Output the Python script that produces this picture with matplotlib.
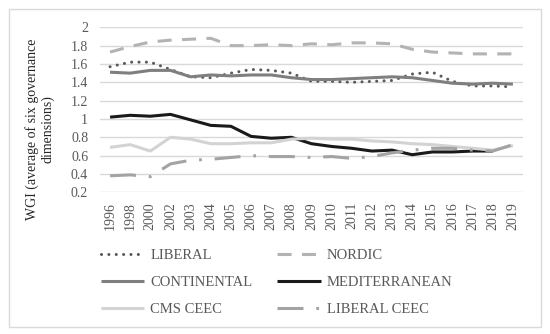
import numpy as np
import matplotlib
matplotlib.use("Agg")
import matplotlib.pyplot as plt
from matplotlib.patches import Rectangle

plt.rcParams['font.family'] = ['Liberation Serif', 'DejaVu Serif']

years = ['1996', '1998', '2000', '2002', '2003', '2004', '2005', '2006', '2007',
         '2008', '2009', '2010', '2011', '2012', '2013', '2014', '2015', '2016',
         '2017', '2018', '2019']

liberal = [1.57, 1.62, 1.62, 1.54, 1.46, 1.45, 1.50, 1.54, 1.53, 1.50, 1.41,
           1.41, 1.40, 1.41, 1.42, 1.49, 1.51, 1.41, 1.36, 1.36, 1.35]
nordic = [1.73, 1.79, 1.84, 1.86, 1.87, 1.88, 1.80, 1.80, 1.81, 1.80, 1.82,
          1.81, 1.83, 1.83, 1.82, 1.76, 1.73, 1.72, 1.71, 1.71, 1.71]
continental = [1.51, 1.50, 1.53, 1.53, 1.46, 1.48, 1.47, 1.48, 1.48, 1.45, 1.43,
               1.43, 1.44, 1.45, 1.46, 1.45, 1.42, 1.39, 1.38, 1.39, 1.38]
mediterranean = [1.02, 1.04, 1.03, 1.05, 0.99, 0.93, 0.92, 0.81, 0.79, 0.80, 0.73,
                 0.70, 0.68, 0.65, 0.66, 0.61, 0.64, 0.64, 0.65, 0.65, np.nan]
cms_ceec = [0.69, 0.72, 0.65, 0.80, 0.78, 0.73, 0.73, 0.74, 0.74, 0.78, 0.79,
            0.78, 0.78, 0.76, 0.75, 0.73, 0.72, 0.70, 0.68, 0.66, 0.71]
liberal_ceec = [0.38, 0.39, 0.37, 0.51, 0.55, 0.56, 0.58, 0.60, 0.59, 0.59, 0.58,
                0.59, 0.57, 0.59, 0.63, 0.66, 0.68, 0.68, 0.66, 0.65, 0.72]

yticks = [0.2, 0.4, 0.6, 0.8, 1.0, 1.2, 1.4, 1.6, 1.8, 2.0]
ytick_labels = ['0.2', '0.4', '0.6', '0.8', '1', '1.2', '1.4', '1.6', '1.8', '2']

W, H = 550, 334
fig = plt.figure(figsize=(W / 100, H / 100), dpi=100)
fig.patch.set_facecolor('white')
ax = fig.add_axes([100 / W, 1 - 192.3 / H, 423 / W, (192.3 - 27.3) / H])

x = np.arange(len(years))
lw = 2.2
l1, = ax.plot(x, liberal, color='#595959', lw=lw, linestyle=(0, (0.01, 2.4)),
              dash_capstyle='round', label='LIBERAL')
l2, = ax.plot(x, nordic, color='#b3b3b3', lw=lw, linestyle=(0, (4.6, 3.4)),
              label='NORDIC')
l3, = ax.plot(x, continental, color='#7f7f7f', lw=lw, solid_capstyle='butt',
              label='CONTINENTAL')
l4, = ax.plot(x, mediterranean, color='#1a1a1a', lw=lw, solid_capstyle='butt',
              label='MEDITERRANEAN')
l5, = ax.plot(x, cms_ceec, color='#d3d3d3', lw=lw, solid_capstyle='butt',
              label='CMS CEEC')
l6, = ax.plot(x, liberal_ceec, color='#a3a3a3', lw=lw,
              linestyle=(0, (8.5, 4.2, 0.9, 4.2)), label='LIBERAL CEEC')

ax.set_xlim(-0.5, len(years) - 0.5)
ax.set_ylim(0.2, 2.0)
ax.set_yticks(yticks)
ax.set_yticklabels(ytick_labels)
ax.set_xticks(x)
ax.set_xticklabels(years, rotation=90)
ax.tick_params(axis='both', length=0, labelsize=10, labelcolor='#595959')
ax.tick_params(axis='y', pad=8.5)
ax.tick_params(axis='x', pad=7)
ax.grid(axis='y', color='#d9d9d9', lw=1)
ax.set_axisbelow(True)
for s in ax.spines.values():
    s.set_visible(False)

fig.text(40 / W, 1 - 129 / H, 'WGI (average of six governance\ndimensions)',
         rotation=90, ha='center', va='center', multialignment='center',
         fontsize=10, color='#262626')

handles = [l1, l3, l5, l2, l4, l6]
leg = fig.legend(handles, [h.get_label() for h in handles], ncol=2,
                 loc='upper left', bbox_to_anchor=(100.7 / W, 1 - 248.5 / H),
                 frameon=False, fontsize=10.5, handlelength=3.0,
                 handletextpad=0.4, columnspacing=1.7, labelspacing=0.95,
                 borderpad=0, borderaxespad=0, labelcolor='#595959')

fig.add_artist(Rectangle((9 / W, 1 - 327 / H), (541 - 9) / W, (327 - 9) / H,
                         transform=fig.transFigure, fill=False,
                         edgecolor='#d9d9d9', lw=1))

fig.savefig('out.png', dpi=100, facecolor='white')
